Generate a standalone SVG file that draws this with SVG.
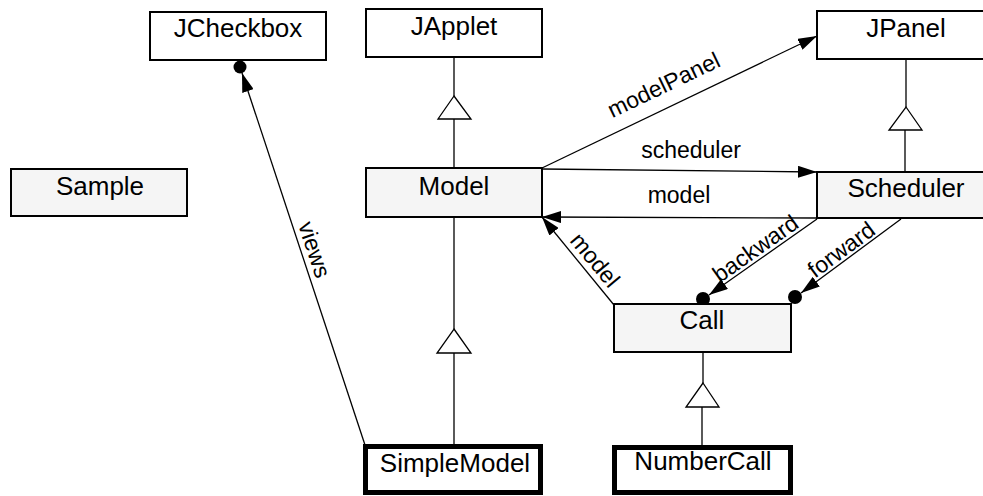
<svg xmlns="http://www.w3.org/2000/svg" width="983" height="496" viewBox="0 0 983 496">
  <style>
    .box { stroke: #000; stroke-width: 2; fill: #fff; }
    .box.shade { fill: #f5f5f5; }
    .box.heavy { stroke-width: 5; }
    .name { font-family: "Liberation Sans", Arial, sans-serif; font-size: 26px; fill: #000; text-anchor: middle; }
    .edge { stroke: #000; stroke-width: 1.3; fill: none; }
    .label { font-family: "Liberation Sans", Arial, sans-serif; font-size: 23px; fill: #000; text-anchor: middle; }
    .tri { fill: #fff; stroke: #000; stroke-width: 1.3; }
    .dot { fill: #000; }
  </style>
  <defs>
    <marker id="arrow" markerUnits="userSpaceOnUse" markerWidth="20" markerHeight="12" refX="19" refY="6" orient="auto">
      <path d="M0,0 L19,6 L0,12 z" fill="#000"/>
    </marker>
  </defs>
  <rect width="983" height="496" fill="#fff"/>

  <!-- connectors -->
  <g id="connectors">
    <!-- generalisation: Model -> JApplet -->
    <line class="edge" x1="454" y1="57" x2="454" y2="96"/>
    <line class="edge" x1="454" y1="119" x2="454" y2="168" stroke-width="2"/>
    <polygon class="tri" points="454,96 471,119 438,119"/>
    <!-- generalisation: SimpleModel -> Model -->
    <line class="edge" x1="454" y1="217" x2="454" y2="329"/>
    <line class="edge" x1="454" y1="353" x2="454" y2="444"/>
    <polygon class="tri" points="454,329 471,353 437,353"/>
    <!-- generalisation: Scheduler -> JPanel -->
    <line class="edge" x1="906" y1="59" x2="906" y2="107"/>
    <line class="edge" x1="905" y1="130" x2="905" y2="172"/>
    <polygon class="tri" points="906,107 922,130 889,130"/>
    <!-- generalisation: NumberCall -> Call -->
    <line class="edge" x1="703" y1="352" x2="703" y2="383"/>
    <line class="edge" x1="702" y1="407" x2="702" y2="445"/>
    <polygon class="tri" points="703,383 719,407 686,407"/>

    <!-- modelPanel -->
    <line class="edge" x1="542" y1="168" x2="817" y2="36" marker-end="url(#arrow)"/>
    <text class="label" transform="translate(667,92) rotate(-25.6)">modelPanel</text>
    <!-- scheduler -->
    <line class="edge" x1="542" y1="169" x2="817" y2="172" marker-end="url(#arrow)"/>
    <text class="label" x="691" y="158">scheduler</text>
    <!-- model (Scheduler -> Model) -->
    <line class="edge" x1="817" y1="218" x2="542" y2="217" marker-end="url(#arrow)"/>
    <text class="label" x="679" y="203">model</text>
    <!-- model (Call -> Model) -->
    <line class="edge" x1="614" y1="305" x2="542" y2="217" marker-end="url(#arrow)"/>
    <text class="label" transform="translate(589,265) rotate(50.3)">model</text>
    <!-- backward -->
    <line class="edge" x1="817" y1="219" x2="709" y2="295" marker-end="url(#arrow)"/>
    <circle class="dot" cx="703" cy="299" r="7"/>
    <text class="label" transform="translate(760,255) rotate(-35.1)">backward</text>
    <!-- forward -->
    <line class="edge" x1="901" y1="219" x2="801" y2="293" marker-end="url(#arrow)"/>
    <circle class="dot" cx="795" cy="297" r="7"/>
    <text class="label" transform="translate(846,256) rotate(-36.3)">forward</text>
    <!-- views -->
    <line class="edge" x1="365" y1="445" x2="242" y2="73" marker-end="url(#arrow)"/>
    <circle class="dot" cx="240" cy="67" r="6.5"/>
    <text class="label" transform="translate(307,252) rotate(71.6)">views</text>
  </g>

  <!-- nodes -->
  <g id="JCheckbox">
    <rect class="box" x="150" y="12" width="176" height="48"/>
    <text class="name" x="238" y="37">JCheckbox</text>
  </g>
  <g id="JApplet">
    <rect class="box" x="366" y="9" width="176" height="48"/>
    <text class="name" x="454" y="35">JApplet</text>
  </g>
  <g id="JPanel">
    <rect class="box" x="817" y="11" width="178" height="48"/>
    <text class="name" x="906" y="37">JPanel</text>
  </g>
  <g id="Sample">
    <rect class="box shade" x="11" y="169" width="176" height="47"/>
    <text class="name" x="100" y="195">Sample</text>
  </g>
  <g id="Model">
    <rect class="box shade" x="366" y="168" width="176" height="49"/>
    <text class="name" x="454" y="195">Model</text>
  </g>
  <g id="Scheduler">
    <rect class="box shade" x="817" y="172" width="178" height="46"/>
    <text class="name" x="906" y="197">Scheduler</text>
  </g>
  <g id="Call">
    <rect class="box shade" x="614" y="304" width="177" height="48"/>
    <text class="name" x="702" y="329">Call</text>
  </g>
  <g id="SimpleModel">
    <rect class="box heavy" x="365.5" y="446.5" width="175" height="46"/>
    <text class="name" x="455" y="472">SimpleModel</text>
  </g>
  <g id="NumberCall">
    <rect class="box heavy" x="614.5" y="447.5" width="176" height="45"/>
    <text class="name" x="703" y="470">NumberCall</text>
  </g>
</svg>
